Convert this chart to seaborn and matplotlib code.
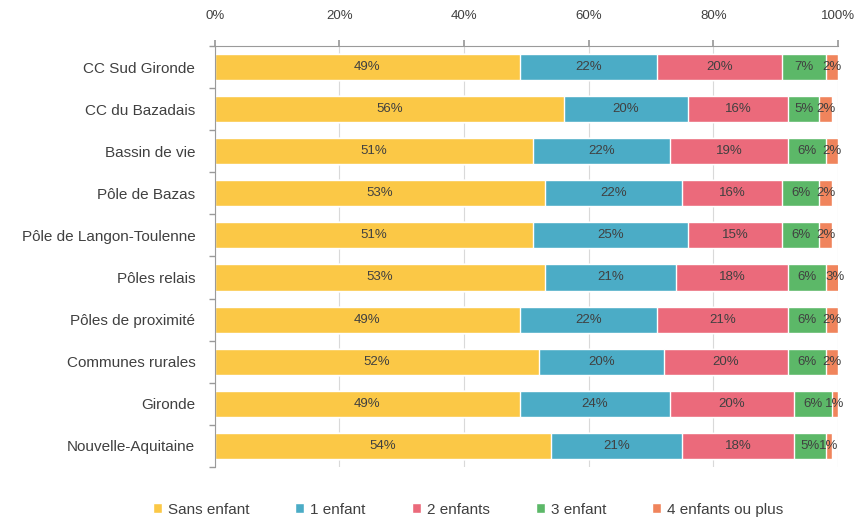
import numpy as np
import pandas as pd
import matplotlib
matplotlib.use("Agg")
import matplotlib.pyplot as plt
import seaborn as sns

categories = [
    "CC Sud Gironde", "CC du Bazadais", "Bassin de vie", "Pôle de Bazas",
    "Pôle de Langon-Toulenne", "Pôles relais", "Pôles de proximité",
    "Communes rurales", "Gironde", "Nouvelle-Aquitaine",
]
series_names = ["Sans enfant", "1 enfant", "2 enfants", "3 enfant", "4 enfants ou plus"]
sans_enfant = [49, 56, 51, 53, 51, 53, 49, 52, 49, 54]
un_enfant = [22, 20, 22, 22, 25, 21, 22, 20, 24, 21]
deux_enfants = [20, 16, 19, 16, 15, 18, 21, 20, 20, 18]
trois_enfants = [7, 5, 6, 6, 6, 6, 6, 6, 6, 5]
quatre_plus = [2, 2, 2, 2, 2, 3, 2, 2, 1, 1]
tick_labels = ["0%", "20%", "40%", "60%", "80%", "100%"]

colors = ["#FBC846", "#4BACC6", "#EB6A7B", "#5CB868", "#F0845C"]

series = [sans_enfant, un_enfant, deux_enfants, trois_enfants, quatre_plus]
values = np.array(series, dtype=float) / 100.0
cum = np.cumsum(values, axis=0)

sns.set_theme(style="white")
plt.rcParams["font.family"] = ["Liberation Sans", "DejaVu Sans"]

fig = plt.figure(figsize=(8.59, 5.17), dpi=100)
ax = fig.add_axes([0.250, 0.097, 0.7256, 0.814])

# stacked bars: draw cumulative totals from the outermost segment inwards
for i in range(len(series_names) - 1, -1, -1):
    df = pd.DataFrame({"cat": categories, "end": cum[i]})
    sns.barplot(data=df, x="end", y="cat", order=categories, color=colors[i],
                saturation=1, width=0.62, ax=ax, orient="h", zorder=2,
                label=series_names[i])

# value labels centered in each segment
for i in range(len(series_names)):
    for j in range(len(categories)):
        start = cum[i][j] - values[i][j]
        ax.text(start + values[i][j] / 2, j, f"{series[i][j]}%",
                ha="center", va="center", fontsize=9.5, color="#404040", zorder=3)

ax.set_xlim(0, 1)
ax.set_ylim(len(categories) - 0.5, -0.5)
ax.set_xticks(np.linspace(0, 1, 6))
ax.set_xticklabels(tick_labels)
ax.xaxis.tick_top()
ax.set_xlabel("")
ax.set_ylabel("")
ax.tick_params(axis="x", which="both", top=True, bottom=False, length=4,
               color="#9A9A9A", labelsize=9.5, labelcolor="#404040", pad=13)
ax.tick_params(axis="y", length=0, labelsize=11, labelcolor="#404040", pad=14)
ax.set_yticks(np.arange(len(categories)))
ax.set_yticks(np.arange(len(categories) + 1) - 0.5, minor=True)
ax.tick_params(axis="y", which="minor", left=True, length=4, color="#9A9A9A")

ax.grid(axis="x", color="#D9D9D9", linewidth=0.8, zorder=0)
ax.set_axisbelow(True)
for side in ["right", "bottom"]:
    ax.spines[side].set_visible(False)
for side in ["top", "left"]:
    ax.spines[side].set_color("#9A9A9A")
    ax.spines[side].set_linewidth(0.8)

handles, labels = ax.get_legend_handles_labels()
order = [labels.index(n) for n in series_names]
leg = fig.legend([handles[k] for k in order], series_names, loc="lower center",
                 bbox_to_anchor=(0.545, -0.026), ncol=5, frameon=False, fontsize=11,
                 handlelength=0.6, handleheight=0.6, handletextpad=0.4,
                 columnspacing=3.0)
for t in leg.get_texts():
    t.set_color("#404040")
if ax.get_legend() is not None:
    ax.get_legend().remove()

fig.savefig("out.png", dpi=100, facecolor="white")
